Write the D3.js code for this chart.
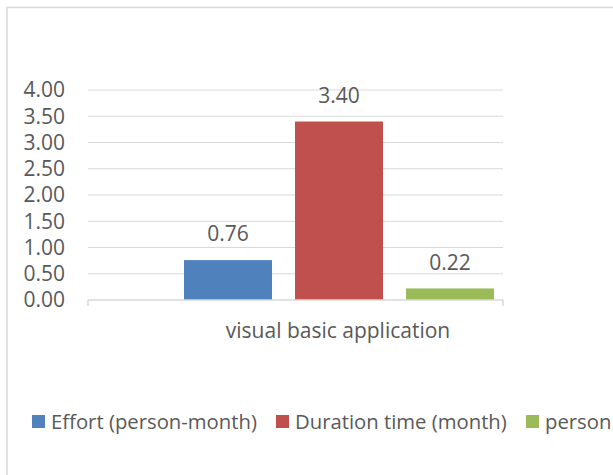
<!DOCTYPE html>
<html><head><meta charset="utf-8">
<script src="https://cdn.jsdelivr.net/npm/d3@7"></script>
<style>body{margin:0;background:#fff;} svg{display:block;} text{font-family:"Open Sans",sans-serif;fill:#595959;}</style>
</head><body>
<div id="chart"></div>
<script>
const categories = ["visual basic application"];
const seriesNames = ["Effort (person-month)", "Duration time (month)", "person"];
const seriesValues = [0.76, 3.40, 0.22];
const seriesColors = ["#4f81bd", "#c0504d", "#9bbb59"];
const yTicks = [0, 0.5, 1, 1.5, 2, 2.5, 3, 3.5, 4];

const W = 613, H = 475;
const FS = 21;
const svg = d3.select("#chart").append("svg").attr("width", W).attr("height", H);

// chart border
svg.append("path").attr("d", `M7,${H} V7.5 H${W}`).attr("fill","none").attr("stroke","#d9d9d9").attr("stroke-width",1.5);

const plot = {left: 88, right: 503, top: 90, bottom: 300};
const y = d3.scaleLinear().domain([0, 4]).range([plot.bottom, plot.top]);
const x0 = d3.scaleBand().domain(categories).range([plot.left, plot.right]);
// bars occupy 184..494 inside the category band
const x1 = d3.scaleBand().domain(seriesNames).range([184, 494]).paddingInner(23/111);

// grid
svg.append("g").selectAll("line").data(yTicks.filter(d => d > 0)).join("line")
  .attr("x1", plot.left).attr("x2", plot.right)
  .attr("y1", d => y(d)).attr("y2", d => y(d))
  .attr("stroke", "#d9d9d9").attr("stroke-width", 1.2);

// y labels
svg.append("g").selectAll("text").data(yTicks).join("text")
  .attr("x", 65).attr("y", d => y(d)).attr("dy", "0.35em")
  .attr("text-anchor", "end").attr("font-size", FS)
  .text(d => d3.format(".2f")(d));

// bars
svg.append("g").selectAll("rect").data(seriesValues).join("rect")
  .attr("x", (d, i) => x1(seriesNames[i]))
  .attr("width", x1.bandwidth())
  .attr("y", d => y(d)).attr("height", d => y(0) - y(d))
  .attr("fill", (d, i) => seriesColors[i]);

// value labels
svg.append("g").selectAll("text").data(seriesValues).join("text")
  .attr("x", (d, i) => x1(seriesNames[i]) + x1.bandwidth()/2)
  .attr("y", d => y(d) - 26).attr("dy", "0.35em")
  .attr("text-anchor", "middle").attr("font-size", FS)
  .text(d => d3.format(".2f")(d));

// x axis
svg.append("line").attr("x1", plot.left).attr("x2", plot.right).attr("y1", y(0)).attr("y2", y(0))
  .attr("stroke", "#d9d9d9").attr("stroke-width", 1.5);
[plot.left, plot.right].forEach(px => svg.append("line").attr("x1", px).attr("x2", px)
  .attr("y1", y(0)).attr("y2", y(0)+6).attr("stroke", "#d9d9d9").attr("stroke-width", 1.5));

svg.append("text").attr("x", 338).attr("y", 331).attr("dy","0.35em")
  .attr("text-anchor","middle").attr("font-size", FS).text(categories[0]);

// legend
const legX = [32, 276, 526];
const lg = svg.append("g").selectAll("g").data(seriesNames).join("g")
  .attr("transform", (d, i) => `translate(${legX[i]},421.5)`);
lg.append("rect").attr("x", 0).attr("y", -6.5).attr("width", 13).attr("height", 13).attr("fill", (d, i) => seriesColors[i]);
lg.append("text").attr("x", 19).attr("y", 0).attr("dy", "0.35em").attr("font-size", 20.3).text(d => d);
</script>
</body></html>
